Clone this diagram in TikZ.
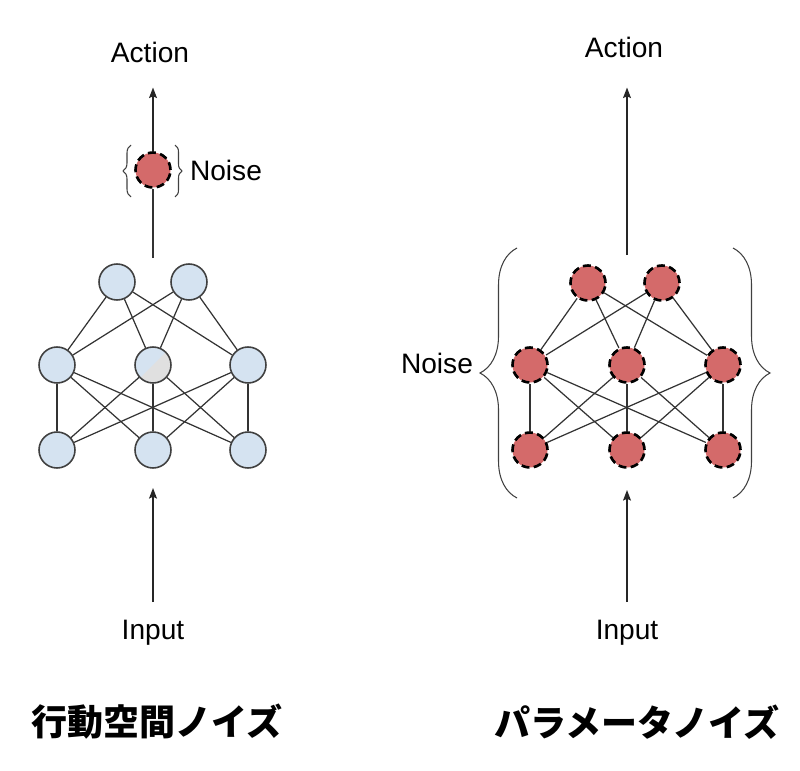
\documentclass[tikz,border=0pt]{standalone}
\usepackage{fontspec}
\setmainfont{Liberation Sans}
\newfontfamily\jpfont{Noto Sans CJK JP}
\usetikzlibrary{arrows.meta,decorations.pathreplacing}
\definecolor{unitblue}{HTML}{D5E3F1}
\definecolor{unitred}{HTML}{D46A6A}
\tikzset{
  unit/.style={circle,draw=black!75,line width=0.9pt,fill=unitblue,minimum size=0.72cm,inner sep=0pt},
  noisy/.style={circle,draw=black,line width=1.5pt,dash pattern=on 4.5pt off 2.5pt,fill=unitred,minimum size=0.7cm,inner sep=0pt},
  link/.style={draw=black!80,line width=0.7pt},
  flow/.style={draw=black!85,line width=0.8pt,-{Stealth[length=6pt,width=4.5pt,inset=1pt]}},
  curly/.style={draw=black!75,line width=0.6pt,decorate,decoration={brace,amplitude=#1}},
  lbl/.style={font=\fontsize{16}{18}\selectfont},
  jplabel/.style={font=\jpfont\bfseries\fontsize{20.5}{24}\selectfont}
}
\begin{document}
\begin{tikzpicture}[x=0.02cm,y=-0.02cm]
    \useasboundingbox (0,0) rectangle (800,770);
    % action space noise
    \node[unit](a1)at(117,282){};
    \node[unit](a2)at(189,282){};
    \node[unit](b1)at(57,365){};
    \node[unit,path picture={\fill[black!12](path picture bounding box.north east)--(path picture bounding box.south east)--(path picture bounding box.south west)--cycle;}](b2)at(153,365){};
    \node[unit](b3)at(248,365){};
    \node[unit](c1)at(57,450){};
    \node[unit](c2)at(153,450){};
    \node[unit](c3)at(248,450){};
    \foreach \t in {a1,a2}
        \foreach \m in {b1,b2,b3}
            \draw[link](\t)--(\m);
    \foreach \m in {b1,b2,b3}
        \foreach \b in {c1,c2,c3}
            \draw[link](\m)--(\b);
    \node[noisy](n)at(153,170){};
    \coordinate(outL)at(153,258);
    \coordinate(inTipL)at(153,488);
    \coordinate(nb1)at(131,197);
    \coordinate(nb2)at(131,145);
    \coordinate(nb3)at(175,145);
    \coordinate(nb4)at(175,197);
    \draw[curly=0.16cm](nb1)--(nb2);
    \draw[curly=0.14cm](nb3)--(nb4);
    \node[lbl](noiseL)at(226,170){Noise};
    \node[lbl](actL)at(150,52){Action};
    \node[lbl](inL)at(153,633){Input};
    \draw[link](outL)--(n);
    \draw[flow,shorten >=0.38cm](n)--(n|-actL.south);
    \draw[flow,shorten <=0.24cm](inL)--(inTipL);
    \node[jplabel](titleL)at(157,722){行動空間ノイズ};
    % parameter noise
    \node[noisy](p1)at(588,283){};
    \node[noisy](p2)at(662,283){};
    \node[noisy](q1)at(530,365){};
    \node[noisy](q2)at(627,365){};
    \node[noisy](q3)at(723,365){};
    \node[noisy](r1)at(530,450){};
    \node[noisy](r2)at(627,450){};
    \node[noisy](r3)at(723,450){};
    \foreach \t in {p1,p2}
        \foreach \m in {q1,q2,q3}
            \draw[link](\t)--(\m);
    \foreach \m in {q1,q2,q3}
        \foreach \b in {r1,r2,r3}
            \draw[link](\m)--(\b);
    \coordinate(bl1)at(517,498);
    \coordinate(bl2)at(517,248);
    \coordinate(br1)at(733,248);
    \coordinate(br2)at(733,498);
    \draw[curly=0.74cm](bl1)--(bl2);
    \draw[curly=0.74cm](br1)--(br2);
    \node[lbl](noiseR)at(437,363){Noise};
    \coordinate(outR)at(627,255);
    \coordinate(inTipR)at(627,490);
    \node[lbl](actR)at(624,47){Action};
    \node[lbl](inR)at(627,633){Input};
    \draw[flow,shorten >=0.48cm](outR)--(outR|-actR.south);
    \draw[flow,shorten <=0.24cm](inR)--(inTipR);
    \node[jplabel](titleR)at(637,722){パラメータノイズ};
\end{tikzpicture}
\end{document}
